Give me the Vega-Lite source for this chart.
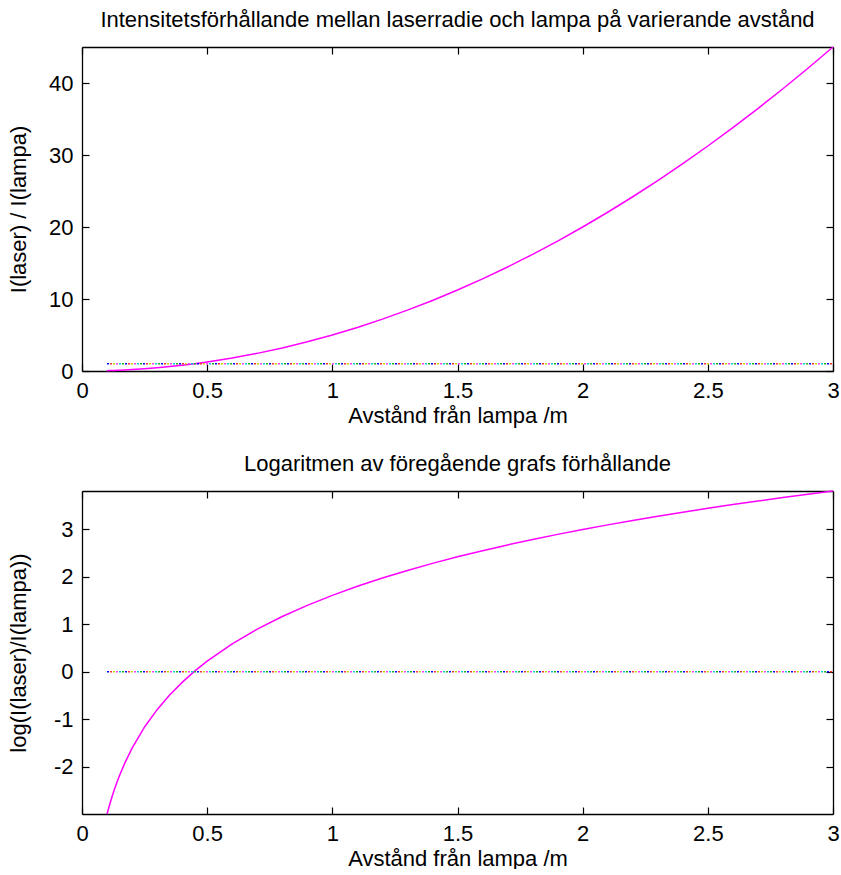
{
  "$schema": "https://vega.github.io/schema/vega-lite/v6.json",
  "background": "white",
  "padding": {"left": 7, "top": 9, "right": 8, "bottom": 0},
  "config": {
    "font": "Liberation Sans",
    "view": {"stroke": null},
    "axis": {
      "grid": false,
      "domainColor": "#000",
      "domainWidth": 1.3,
      "tickColor": "#000",
      "tickSize": -7,
      "tickWidth": 1.2,
      "labelFont": "Liberation Sans",
      "labelFontSize": 22,
      "labelColor": "#000",
      "labelFlush": false,
      "labelOverlap": false,
      "titleFont": "Liberation Sans",
      "titleFontSize": 22,
      "titleFontWeight": "normal",
      "titleColor": "#000",
      "labelPadding": 16
    },
    "title": {"font": "Liberation Sans", "fontSize": 22, "fontWeight": "normal", "color": "#000"},
    "concat": {"spacing": 27}
  },
  "datasets": {
    "curve": [
      {"x": 0.1, "r": 0.05, "l": -2.9957},
      {"x": 0.11, "r": 0.0605, "l": -2.8052},
      {"x": 0.12, "r": 0.072, "l": -2.6312},
      {"x": 0.13, "r": 0.0845, "l": -2.471},
      {"x": 0.14, "r": 0.098, "l": -2.3228},
      {"x": 0.15, "r": 0.1125, "l": -2.1848},
      {"x": 0.17, "r": 0.1445, "l": -1.9346},
      {"x": 0.2, "r": 0.2, "l": -1.6094},
      {"x": 0.25, "r": 0.3125, "l": -1.1632},
      {"x": 0.3, "r": 0.45, "l": -0.7986},
      {"x": 0.35, "r": 0.6125, "l": -0.4902},
      {"x": 0.4, "r": 0.8, "l": -0.2232},
      {"x": 0.45, "r": 1.0125, "l": 0.0124},
      {"x": 0.5, "r": 1.25, "l": 0.2231},
      {"x": 0.6, "r": 1.8, "l": 0.5878},
      {"x": 0.7, "r": 2.45, "l": 0.8961},
      {"x": 0.8, "r": 3.2, "l": 1.1632},
      {"x": 0.9, "r": 4.05, "l": 1.3986},
      {"x": 1.0, "r": 5.0, "l": 1.6094},
      {"x": 1.1, "r": 6.05, "l": 1.8},
      {"x": 1.2, "r": 7.2, "l": 1.9741},
      {"x": 1.3, "r": 8.45, "l": 2.1342},
      {"x": 1.4, "r": 9.8, "l": 2.2824},
      {"x": 1.5, "r": 11.25, "l": 2.4204},
      {"x": 1.6, "r": 12.8, "l": 2.5494},
      {"x": 1.7, "r": 14.45, "l": 2.6706},
      {"x": 1.8, "r": 16.2, "l": 2.785},
      {"x": 1.9, "r": 18.05, "l": 2.8932},
      {"x": 2.0, "r": 20.0, "l": 2.9957},
      {"x": 2.1, "r": 22.05, "l": 3.0933},
      {"x": 2.2, "r": 24.2, "l": 3.1864},
      {"x": 2.3, "r": 26.45, "l": 3.2753},
      {"x": 2.4, "r": 28.8, "l": 3.3604},
      {"x": 2.5, "r": 31.25, "l": 3.442},
      {"x": 2.6, "r": 33.8, "l": 3.5204},
      {"x": 2.7, "r": 36.45, "l": 3.596},
      {"x": 2.8, "r": 39.2, "l": 3.6687},
      {"x": 2.9, "r": 42.05, "l": 3.7388},
      {"x": 3.0, "r": 45.0, "l": 3.8067}
    ],
    "ref": [
      {"x": 0.1, "r": 1, "l": 0},
      {"x": 3.0, "r": 1, "l": 0}
    ]
  },
  "vconcat": [
    {
      "width": 751,
      "height": 324,
      "title": {"text": "Intensitetsförhållande mellan laserradie och lampa på varierande avstånd", "offset": 12},
      "layer": [
        {
          "data": {"name": "curve"},
          "mark": {"type": "line", "color": "#ff00ff", "strokeWidth": 1.5},
          "encoding": {
            "x": {"field": "x", "type": "quantitative", "scale": {"domain": [0, 3], "nice": false, "zero": false},
                  "axis": {"orient": "bottom", "values": [0, 0.5, 1, 1.5, 2, 2.5, 3], "labelExpr": "datum.value + ''", "title": "Avstånd från lampa /m", "titlePadding": 4}},
            "y": {"field": "r", "type": "quantitative", "scale": {"domain": [0, 45], "nice": false, "zero": false},
                  "axis": {"orient": "left", "values": [0, 10, 20, 30, 40], "labelExpr": "datum.value + ''", "title": "I(laser) / I(lampa)", "minExtent": 50, "maxExtent": 50, "titlePadding": 2}}
          }
        },
        {
          "data": {"name": "ref"},
          "encoding": {
            "x": {"field": "x", "type": "quantitative", "scale": {"domain": [0, 3], "nice": false, "zero": false},
                  "axis": {"orient": "top", "values": [0, 0.5, 1, 1.5, 2, 2.5, 3], "labels": false, "title": null}},
            "y": {"field": "r", "type": "quantitative", "scale": {"domain": [0, 45], "nice": false, "zero": false},
                  "axis": {"orient": "right", "values": [0, 10, 20, 30, 40], "labels": false, "title": null}}
          },
          "layer": [
            {"mark": {"type": "line", "color": "#0000ff", "strokeWidth": 1.5, "strokeDash": [2, 16], "strokeDashOffset": 0}},
            {"mark": {"type": "line", "color": "#ff3030", "strokeWidth": 1.5, "strokeDash": [2, 16], "strokeDashOffset": 15}},
            {"mark": {"type": "line", "color": "#d0d000", "strokeWidth": 1.5, "strokeDash": [2, 16], "strokeDashOffset": 12}},
            {"mark": {"type": "line", "color": "#ff40ff", "strokeWidth": 1.5, "strokeDash": [2, 16], "strokeDashOffset": 9}},
            {"mark": {"type": "line", "color": "#00d0d0", "strokeWidth": 1.5, "strokeDash": [2, 16], "strokeDashOffset": 6}},
            {"mark": {"type": "line", "color": "#20b020", "strokeWidth": 1.5, "strokeDash": [2, 16], "strokeDashOffset": 3}}
          ]
        }
      ],
      "resolve": {"scale": {"x": "independent", "y": "independent"}}
    },
    {
      "width": 751,
      "height": 323,
      "title": {"text": "Logaritmen av föregående grafs förhållande", "offset": 12},
      "layer": [
        {
          "data": {"name": "curve"},
          "mark": {"type": "line", "color": "#ff00ff", "strokeWidth": 1.5},
          "encoding": {
            "x": {"field": "x", "type": "quantitative", "scale": {"domain": [0, 3], "nice": false, "zero": false},
                  "axis": {"orient": "bottom", "values": [0, 0.5, 1, 1.5, 2, 2.5, 3], "labelExpr": "datum.value + ''", "title": "Avstånd från lampa /m", "titlePadding": 4}},
            "y": {"field": "l", "type": "quantitative", "scale": {"domain": [-2.9957, 3.8067], "nice": false, "zero": false},
                  "axis": {"orient": "left", "values": [-2, -1, 0, 1, 2, 3], "labelExpr": "datum.value + ''", "title": "log(I(laser)/I(lampa))", "minExtent": 50, "maxExtent": 50, "titlePadding": 2}}
          }
        },
        {
          "data": {"name": "ref"},
          "encoding": {
            "x": {"field": "x", "type": "quantitative", "scale": {"domain": [0, 3], "nice": false, "zero": false},
                  "axis": {"orient": "top", "values": [0, 0.5, 1, 1.5, 2, 2.5, 3], "labels": false, "title": null}},
            "y": {"field": "l", "type": "quantitative", "scale": {"domain": [-2.9957, 3.8067], "nice": false, "zero": false},
                  "axis": {"orient": "right", "values": [-2, -1, 0, 1, 2, 3], "labels": false, "title": null}}
          },
          "layer": [
            {"mark": {"type": "line", "color": "#0000ff", "strokeWidth": 1.5, "strokeDash": [2, 16], "strokeDashOffset": 0}},
            {"mark": {"type": "line", "color": "#ff3030", "strokeWidth": 1.5, "strokeDash": [2, 16], "strokeDashOffset": 15}},
            {"mark": {"type": "line", "color": "#d0d000", "strokeWidth": 1.5, "strokeDash": [2, 16], "strokeDashOffset": 12}},
            {"mark": {"type": "line", "color": "#ff40ff", "strokeWidth": 1.5, "strokeDash": [2, 16], "strokeDashOffset": 9}},
            {"mark": {"type": "line", "color": "#00d0d0", "strokeWidth": 1.5, "strokeDash": [2, 16], "strokeDashOffset": 6}},
            {"mark": {"type": "line", "color": "#20b020", "strokeWidth": 1.5, "strokeDash": [2, 16], "strokeDashOffset": 3}}
          ]
        }
      ],
      "resolve": {"scale": {"x": "independent", "y": "independent"}}
    }
  ]
}
